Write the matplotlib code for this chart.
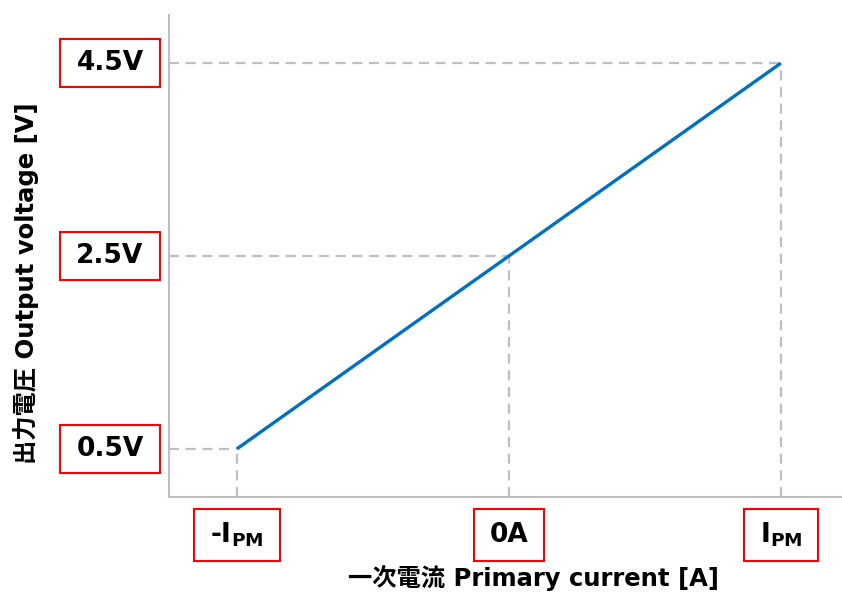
import matplotlib.pyplot as plt
from matplotlib.patches import Rectangle

# data
current = [-1, 0, 1]
voltage = [0.5, 2.5, 4.5]
x_labels = ['-I$_{\\mathbf{PM}}$', '0A', 'I$_{\\mathbf{PM}}$']
y_labels = ['0.5V', '2.5V', '4.5V']

plt.rcParams['font.family'] = ['DejaVu Sans', 'Noto Sans CJK JP']

fig = plt.figure(figsize=(8.42, 5.94), dpi=100)
ax = fig.add_axes([169 / 842, 97 / 594, 673 / 842, 482 / 594])
ax.set_xlim(-1.25, 1.225)
ax.set_ylim(0, 5)

grey = '#BFBFBF'
for x, y in zip(current, voltage):
    ax.plot([-1.25, x], [y, y], color=grey, lw=1.6, ls=(0, (4.5, 3)), zorder=1)
    ax.plot([x, x], [0, y], color=grey, lw=1.6, ls=(0, (4.5, 3)), zorder=1)

ax.plot(current, voltage, color='#0070C0', lw=2.4, solid_capstyle='butt', zorder=3)

for s in ['top', 'right']:
    ax.spines[s].set_visible(False)
for s in ['left', 'bottom']:
    ax.spines[s].set_color(grey)
    ax.spines[s].set_linewidth(1.5)
ax.set_xticks([])
ax.set_yticks([])

# boxed labels
fig.canvas.draw()
r = fig.canvas.get_renderer()

def boxed(cx, cy, text, h):
    t = fig.text(cx / 842, cy / 594, text, ha='center', va='center',
                 fontsize=19, fontweight='bold', color='black')
    bb = t.get_window_extent(renderer=r)
    w = bb.width + 32
    fig.patches.append(Rectangle((cx - w / 2, cy - h / 2), w, h, transform=None,
                                 fill=False, edgecolor='#FF0000', lw=1.5))

for y, lab in zip(voltage, y_labels):
    px = ax.transData.transform((0, y))
    boxed(110, px[1], lab, 48)

for x, lab in zip(current, x_labels):
    px = ax.transData.transform((x, 0))
    boxed(px[0], 594 - 535, lab, 52)

fig.text(533 / 842, 1 - 578 / 594, '一次電流 Primary current [A]', ha='center', va='center',
         fontsize=17.5, fontweight='bold')
fig.text(26 / 842, 1 - 283 / 594, '出力電圧 Output voltage [V]', ha='center', va='center',
         fontsize=17.5, fontweight='bold', rotation=90)

fig.savefig('out.png', dpi=100)
